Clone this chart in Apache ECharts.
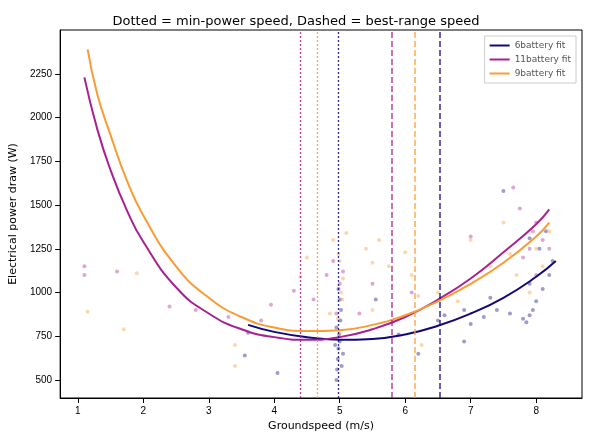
<!DOCTYPE html><html><head><meta charset="utf-8"><script src="https://cdn.jsdelivr.net/npm/echarts@6/dist/echarts.min.js"></script></head><body style="margin:0"><div id="c" style="width:592px;height:447px"></div><script>
const xTicks=[1,2,3,4,5,6,7,8];
const yTicks=[500,750,1000,1250,1500,1750,2000,2250];
const fit6=[[3.6,815],[4,775],[4.5,745],[5,730],[5.5,735],[6,760],[6.5,810],[7,880],[7.5,970],[8,1090],[8.3,1180]];
const fit11=[[1.1,2230],[1.3,1930],[1.5,1700],[1.75,1470],[2,1290],[2.5,1030],[3,880],[3.5,790],[4,745],[4.5,730],[5,745],[5.5,790],[6,860],[6.5,960],[7,1080],[7.5,1230],[8,1390],[8.2,1475]];
const fit9=[[1.15,2390],[1.3,2130],[1.5,1900],[1.75,1640],[2,1440],[2.5,1150],[3,970],[3.5,860],[4,800],[4.5,780],[5,785],[5.5,815],[6,870],[6.5,950],[7,1050],[7.5,1170],[8,1320],[8.2,1400]];
const pts6=[[3.55,640],[3.6,770],[4.05,540],[4.95,500],[4.96,560],[4.97,620],[4.98,680],[5.0,720],[4.99,760],[5.01,840],[5.02,900],[5.0,960],[4.98,1020],[5.03,580],[5.05,650],[4.93,700],[4.95,800],[5.55,960],[5.9,760],[6.2,650],[6.5,840],[6.6,870],[6.9,900],[7.0,820],[7.2,860],[7.4,900],[7.6,880],[7.8,850],[7.85,830],[7.9,870],[7.95,900],[8.0,950],[8.1,1020],[8.2,1100],[8.25,1180],[7.9,1050],[8.05,1250],[7.9,1310],[7.5,1580],[6.9,720],[7.3,970],[8.15,1350]];
const pts11=[[1.1,1150],[1.1,1100],[1.6,1120],[2.4,920],[2.8,900],[3.3,860],[3.8,840],[3.95,930],[4.3,1010],[4.6,960],[4.8,1100],[4.9,1180],[5.0,1050],[5.05,1120],[4.95,880],[5.3,880],[5.5,1050],[6.1,1000],[7.0,1320],[7.65,1600],[7.75,1480],[7.9,1250],[8.0,1400],[8.1,1300],[7.95,1350],[7.8,1200],[8.0,1100],[8.2,1250]];
const pts9=[[1.15,890],[1.7,790],[1.9,1110],[3.4,700],[3.4,580],[4.4,1090],[4.5,1200],[4.9,1300],[5.0,1180],[5.02,1000],[5.04,960],[5.05,1080],[4.97,850],[5.0,770],[4.98,1220],[5.1,1340],[5.4,1250],[5.5,1170],[5.6,1300],[5.75,1150],[6.0,1230],[6.1,1100],[6.2,980],[6.25,700],[6.5,1000],[6.8,950],[7.0,1300],[7.3,1150],[7.5,1400],[7.6,1220],[7.7,1100],[7.9,1000],[8.0,1250],[8.1,1150],[8.2,1350],[5.5,900],[4.85,880]];
const minSpd={'6battery':4.97,'11battery':4.4,'9battery':4.65};
const bestSpd={'6battery':6.52,'11battery':5.8,'9battery':6.15};
const names=['6battery','11battery','9battery'];
const cols={'6battery':'#10087a','11battery':'#a8228f','9battery':'#f89c35'};
const fits={'6battery':fit6,'11battery':fit11,'9battery':fit9};
const pts={'6battery':pts6,'11battery':pts11,'9battery':pts9};
const series=[];
names.forEach(n=>{
 series.push({type:'scatter',data:pts[n],symbolSize:4,itemStyle:{color:cols[n],opacity:0.4},silent:true});
});
names.forEach(n=>{
 series.push({name:n+' fit',type:'line',data:fits[n],smooth:true,showSymbol:false,lineStyle:{color:cols[n],width:2},itemStyle:{color:cols[n]},
  markLine:{silent:true,symbol:'none',label:{show:false},data:[
   {xAxis:minSpd[n],lineStyle:{color:cols[n],type:[2,2],width:1.3,opacity:0.85}},
   {xAxis:bestSpd[n],lineStyle:{color:cols[n],type:[6,3],width:1.5,opacity:0.85}}]}});
});
const ch=echarts.init(document.getElementById('c'));
ch.setOption({animation:false,
 title:{text:'Dotted = min-power speed, Dashed = best-range speed',left:'center',top:10,textStyle:{fontSize:13,fontWeight:'normal',color:'#000',fontFamily:'DejaVu Sans'}},
 legend:{data:names.map(n=>n+' fit'),orient:'vertical',right:16,top:36,itemWidth:20,itemHeight:2,itemGap:5,backgroundColor:'#fff',borderColor:'#ccc',borderWidth:1,padding:5,textStyle:{fontSize:9,fontFamily:'DejaVu Sans'},icon:'rect'},
 grid:{left:50,right:10,top:30,bottom:49,show:true,borderColor:'#000',borderWidth:1},
 xAxis:{type:'value',min:0.73,max:8.7,name:'Groundspeed (m/s)',nameLocation:'middle',nameGap:22,nameTextStyle:{fontSize:11,color:'#000',fontFamily:'DejaVu Sans'},
  axisLine:{lineStyle:{color:'#000'}},axisTick:{show:true,customValues:xTicks,lineStyle:{color:'#000'}},axisLabel:{color:'#000',fontSize:10,customValues:xTicks},splitLine:{show:false}},
 yAxis:{type:'value',min:397,max:2501,name:'Electrical power draw (W)',nameLocation:'middle',nameGap:38,nameTextStyle:{fontSize:11,color:'#000',fontFamily:'DejaVu Sans'},
  axisLine:{show:true,lineStyle:{color:'#000'}},axisTick:{show:true,customValues:yTicks,lineStyle:{color:'#000'}},axisLabel:{color:'#000',fontSize:10,customValues:yTicks,formatter:v=>String(v)},splitLine:{show:false}},
 series});
</script></body></html>
